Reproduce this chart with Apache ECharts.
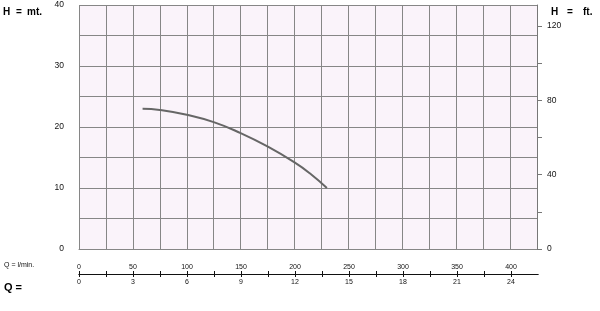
<!DOCTYPE html>
<html>
<head>
<meta charset="utf-8">
<script src="https://cdn.jsdelivr.net/npm/echarts@6/dist/echarts.min.js"></script>
<style>
html,body{margin:0;padding:0;background:#fff;}
#c{width:600px;height:311px;}
</style>
</head>
<body>
<div id="c"></div>
<script>
// Data (flow in l/min, head in m)
var flowLmin = [59, 75, 100, 125, 150, 175, 200, 215, 230];
var headM    = [23.0, 22.8, 22.0, 20.8, 19.0, 16.8, 14.2, 12.3, 10.0];
var leftTickLabels  = [0, 10, 20, 30, 40];
var rightTickLabels = [0, 40, 80, 120];
var rightMinorTicks = [0, 20, 40, 60, 80, 100, 120];
var qLminLabels = [0, 50, 100, 150, 200, 250, 300, 350, 400];
var qM3hLabels  = [0, 3, 6, 9, 12, 15, 18, 21, 24];

var FT = 3.28084;
var font = 'Liberation Sans, Arial, sans-serif';
var gridCol = '#868686';

var chart = echarts.init(document.getElementById('c'), null, {renderer: 'canvas'});
var pts = flowLmin.map(function (q, i) { return [q, headM[i]]; });

chart.setOption({
  animation: false,
  backgroundColor: '#ffffff',
  grid: [
    {left: 79, top: 5, width: 458, height: 244, show: true, backgroundColor: '#faf3fa', borderWidth: 0},
    {left: 79, top: 274, width: 459, height: 0, show: false}
  ],
  xAxis: [
    {gridIndex: 0, type: 'value', min: 0, max: 425, interval: 25,
     axisLine: {show: true, lineStyle: {color: gridCol, width: 1}},
     axisTick: {show: false}, axisLabel: {show: false},
     splitLine: {show: true, lineStyle: {color: gridCol, width: 1}}},
    {gridIndex: 1, type: 'value', position: 'top', min: 0, max: 425, interval: 25,
     axisLine: {show: true, lineStyle: {color: '#111', width: 1}},
     axisTick: {show: true, length: 3, lineStyle: {color: '#111'}},
     splitLine: {show: false},
     axisLabel: {show: true, margin: 3, fontSize: 7, fontFamily: font, color: '#111',
       showMaxLabel: false,
       formatter: function (v) { return qLminLabels.indexOf(v) >= 0 ? String(v) : ''; }}},
    {gridIndex: 1, type: 'value', position: 'bottom', min: 0, max: 425, interval: 25,
     axisLine: {show: true, lineStyle: {color: '#111', width: 1}},
     axisTick: {show: true, length: 3, lineStyle: {color: '#111'}},
     splitLine: {show: false},
     axisLabel: {show: true, margin: 5, fontSize: 7, fontFamily: font, color: '#111',
       showMaxLabel: false,
       formatter: function (v) { var i = qLminLabels.indexOf(v); return i >= 0 ? String(qM3hLabels[i]) : ''; }}}
  ],
  yAxis: [
    {gridIndex: 0, type: 'value', min: 0, max: 40, interval: 5, position: 'left',
     axisLine: {show: false}, axisTick: {show: false},
     splitLine: {show: true, lineStyle: {color: gridCol, width: 1}},
     axisLabel: {show: true, margin: 15, fontSize: 8.5, fontFamily: font, color: '#111',
       formatter: function (v) { return leftTickLabels.indexOf(v) >= 0 ? String(v) : ''; }}},
    {gridIndex: 0, type: 'value', min: 0, max: 40 * FT, position: 'right',
     axisLine: {show: true, lineStyle: {color: '#777', width: 1}},
     axisTick: {show: true, length: 5, customValues: rightMinorTicks, lineStyle: {color: '#777'}},
     splitLine: {show: false},
     axisLabel: {show: true, margin: 10, fontSize: 8.5, fontFamily: font, color: '#111',
       customValues: rightTickLabels}},
    {gridIndex: 1, type: 'value', show: false, min: 0, max: 1}
  ],
  series: [{
    type: 'line', xAxisIndex: 0, yAxisIndex: 0, data: pts, smooth: true,
    symbol: 'none', lineStyle: {color: '#666666', width: 2}
  }],
  graphic: [
    {type: 'text', left: 3, top: 7, style: {text: 'H', font: 'bold 10px ' + font, fill: '#000'}},
    {type: 'text', left: 16, top: 7, style: {text: '=', font: 'bold 10px ' + font, fill: '#000'}},
    {type: 'text', left: 27, top: 7, style: {text: 'mt.', font: 'bold 10px ' + font, fill: '#000'}},
    {type: 'text', left: 551, top: 7, style: {text: 'H', font: 'bold 10px ' + font, fill: '#000'}},
    {type: 'text', left: 567, top: 7, style: {text: '=', font: 'bold 10px ' + font, fill: '#000'}},
    {type: 'text', left: 583, top: 7, style: {text: 'ft.', font: 'bold 10px ' + font, fill: '#000'}},
    {type: 'text', left: 4, top: 262, style: {text: 'Q = l/min.', font: '7px ' + font, fill: '#111'}},
    {type: 'text', left: 4, top: 282, style: {text: 'Q =', font: 'bold 11px ' + font, fill: '#000'}}
  ]
});
</script>
</body>
</html>
